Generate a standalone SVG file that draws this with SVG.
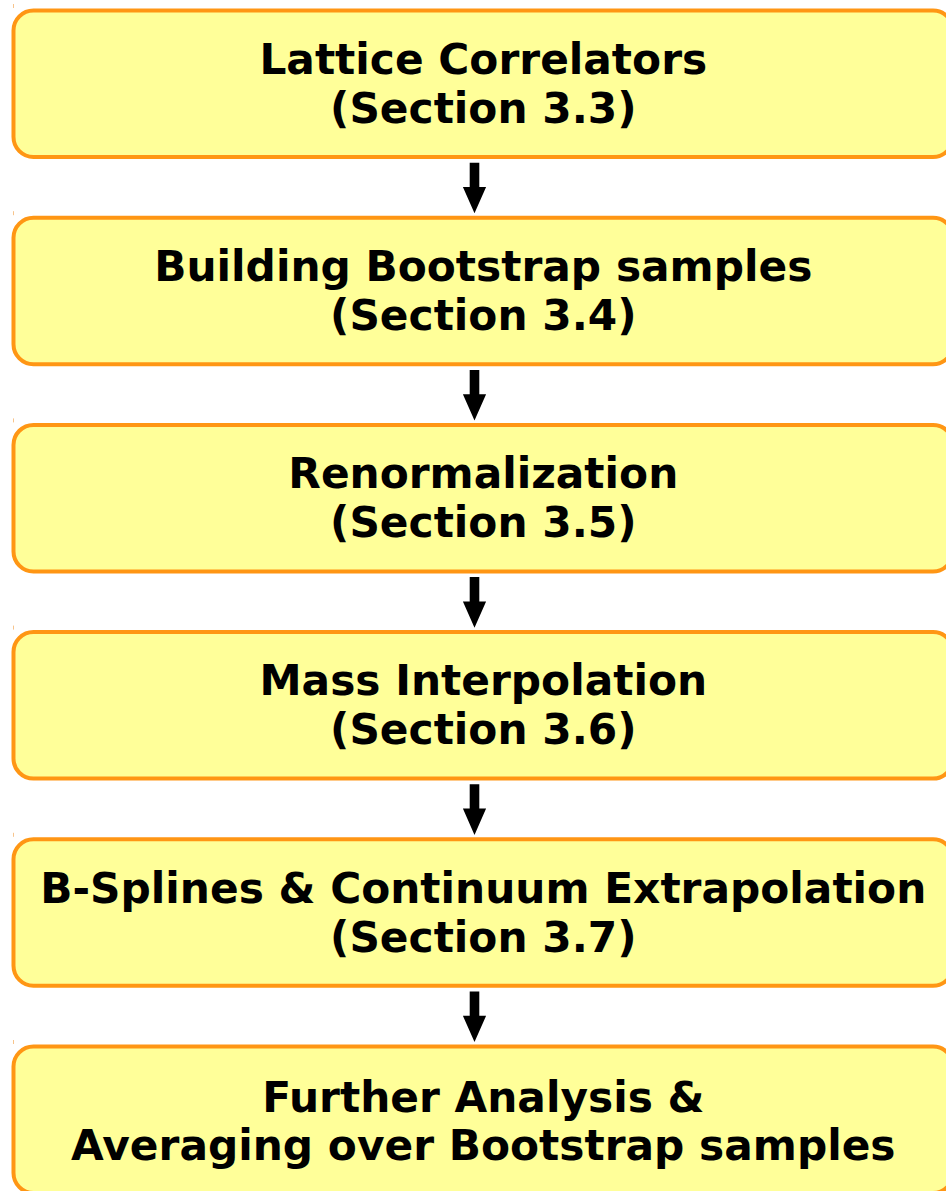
<svg xmlns="http://www.w3.org/2000/svg" width="946" height="1191" viewBox="0 0 946 1191">
  <style>
    .box { fill: #ffff99; stroke: #ff9614; stroke-width: 4; }
    .tick { stroke: #f7c48c; stroke-width: 1; }
    .lbl { font-family: "DejaVu Sans", "Liberation Sans", sans-serif; font-weight: bold; font-size: 42.3px; fill: #000; text-anchor: middle; }
    .arrow { fill: #000; }
  </style>
  <defs>
    <!-- down arrow, tip at origin -->
    <path id="down" class="arrow" d="M-4.8,-50.6 H4.8 V-26.3 H11.6 L0,0 L-11.6,-26.3 H-4.8 Z"/>
  </defs>
  <rect width="946" height="1191" fill="#ffffff"/>

  <g id="connectors">
    <use href="#down" x="474.5" y="213.3"/>
    <use href="#down" x="474.5" y="420.5"/>
    <use href="#down" x="474.5" y="627.7"/>
    <use href="#down" x="474.5" y="834.9"/>
    <use href="#down" x="474.5" y="1042.1"/>
  </g>

  <g id="node-correlators">
    <line class="tick" x1="13.5" y1="4" x2="13.5" y2="8"/>
    <rect class="box" x="13.5" y="10.5" width="939.5" height="146.5" rx="20"/>
    <text class="lbl" x="483.3" y="73.5">Lattice Correlators</text>
    <text class="lbl" x="483.3" y="122.5">(Section 3.3)</text>
  </g>

  <g id="node-bootstrap">
    <line class="tick" x1="13.5" y1="211.2" x2="13.5" y2="215.2"/>
    <rect class="box" x="13.5" y="217.7" width="939.5" height="146.5" rx="20"/>
    <text class="lbl" x="483.3" y="280.7">Building Bootstrap samples</text>
    <text class="lbl" x="483.3" y="329.7">(Section 3.4)</text>
  </g>

  <g id="node-renormalization">
    <line class="tick" x1="13.5" y1="418.4" x2="13.5" y2="422.4"/>
    <rect class="box" x="13.5" y="424.9" width="939.5" height="146.5" rx="20"/>
    <text class="lbl" x="483.3" y="487.9">Renormalization</text>
    <text class="lbl" x="483.3" y="536.9">(Section 3.5)</text>
  </g>

  <g id="node-mass">
    <line class="tick" x1="13.5" y1="625.6" x2="13.5" y2="629.6"/>
    <rect class="box" x="13.5" y="632.1" width="939.5" height="146.5" rx="20"/>
    <text class="lbl" x="483.3" y="695.1">Mass Interpolation</text>
    <text class="lbl" x="483.3" y="744.1">(Section 3.6)</text>
  </g>

  <g id="node-splines">
    <line class="tick" x1="13.5" y1="832.8" x2="13.5" y2="836.8"/>
    <rect class="box" x="13.5" y="839.3" width="939.5" height="146.5" rx="20"/>
    <text class="lbl" x="483.3" y="902.5">B-Splines &amp; Continuum Extrapolation</text>
    <text class="lbl" x="483.3" y="951.5">(Section 3.7)</text>
  </g>

  <g id="node-averaging">
    <line class="tick" x1="13.5" y1="1040" x2="13.5" y2="1044"/>
    <rect class="box" x="13.5" y="1046.5" width="939.5" height="146.5" rx="20"/>
    <text class="lbl" x="483.3" y="1111.5">Further Analysis &amp;</text>
    <text class="lbl" x="483.3" y="1160">Averaging over Bootstrap samples</text>
  </g>
</svg>
